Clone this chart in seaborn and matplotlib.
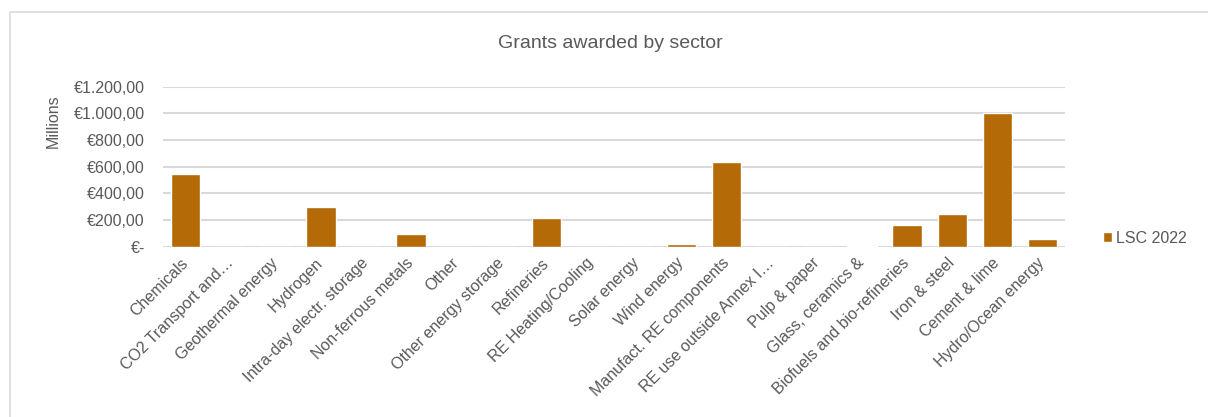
import matplotlib
matplotlib.use("Agg")
import matplotlib.pyplot as plt
from matplotlib.patches import Rectangle
import seaborn as sns
import pandas as pd

sectors = [
    "Chemicals", "CO2 Transport and…", "Geothermal energy", "Hydrogen",
    "Intra-day electr. storage", "Non-ferrous metals", "Other",
    "Other energy storage", "Refineries", "RE Heating/Cooling",
    "Solar energy", "Wind energy", "Manufact. RE components",
    "RE use outside Annex I…", "Pulp & paper", "Glass, ceramics &",
    "Biofuels and bio-refineries", "Iron & steel", "Cement & lime",
    "Hydro/Ocean energy",
]
grants_millions = [543, 0, 0, 300, 0, 95, 0, 0, 213, 0,
                   0, 22, 637, 0, 0, 8, 162, 245, 1000, 60]
series_name = "LSC 2022"
y_ticks = [0, 200, 400, 600, 800, 1000, 1200]
y_tick_labels = ["€-", "€200,00", "€400,00", "€600,00", "€800,00",
                 "€1.000,00", "€1.200,00"]

BAR = "#b36a07"
TEXT = "#595959"
GRID = "#d9d9d9"

sns.set_theme(style="white")
plt.rcParams["font.family"] = ["Liberation Sans", "DejaVu Sans"]

df = pd.DataFrame({"sector": sectors, "value": grants_millions,
                   "series": series_name})

fig = plt.figure(figsize=(12.08, 4.17), dpi=100)
ax = fig.add_axes([163 / 1208, 1 - 246.7 / 417, 902 / 1208, 160 / 417])

sns.barplot(data=df, x="sector", y="value", hue="series",
            palette=[BAR], width=0.65, ax=ax, saturation=1)

ax.set_ylim(0, 1200)
ax.set_xlim(-0.5, len(sectors) - 0.5)
ax.set_yticks(y_ticks)
ax.set_yticklabels(y_tick_labels)
ax.yaxis.grid(True, color=GRID, linewidth=1.5)
ax.set_axisbelow(True)
for s in ax.spines.values():
    s.set_visible(False)

ax.tick_params(axis="y", length=0, pad=13, labelsize=11.5, labelcolor=TEXT)
ax.tick_params(axis="x", length=0, pad=10, labelsize=11.5, labelcolor=TEXT)
ax.set_xticks(range(len(sectors)))
ax.set_xticklabels(sectors, rotation=45, ha="right", va="center",
                   rotation_mode="anchor")

ax.set_xlabel("")
ax.set_ylabel("Millions", fontsize=11.5, color=TEXT)
ax.yaxis.set_label_coords(-0.113, 0.786)

handles, labels = ax.get_legend_handles_labels()
ax.legend(handles, labels, loc="center left", bbox_to_anchor=(1.042, 0.054),
          frameon=False, fontsize=11.5, labelcolor=TEXT, handlelength=0.6,
          handleheight=0.6, handletextpad=0.2, borderpad=0, borderaxespad=0)

fig.text(610 / 1208, 1 - 43 / 417, "Grants awarded by sector",
         ha="center", va="center", fontsize=14, color=TEXT)

fig.patches.append(Rectangle((10 / 1208, -0.1), 1.2, 1 - 11.5 / 417 + 0.1,
                             transform=fig.transFigure, fill=False,
                             edgecolor=GRID, linewidth=1.2))

fig.savefig("out.png", dpi=100)
